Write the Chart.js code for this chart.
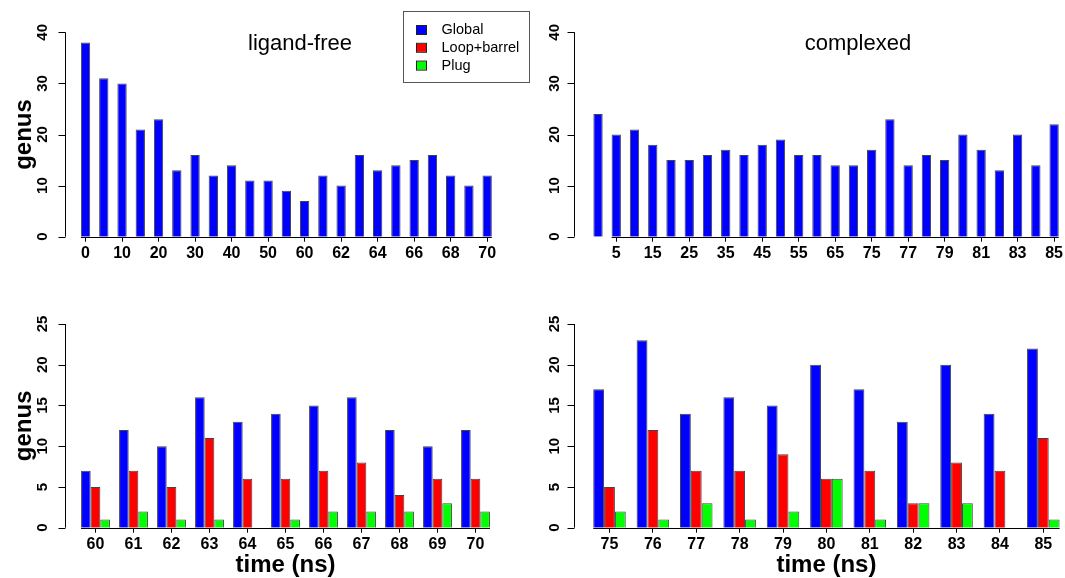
<!DOCTYPE html>
<html lang="en">
  <head>
    <meta charset="UTF-8" />
    <title>genus over time</title>
    <style>
      body { margin: 0; background: #fff; }
      canvas.panel { position: absolute; }
    </style>
  </head>
  <body>
    <canvas class="panel" id="freeTop" width="532" height="290" style="left:0;top:0"></canvas>
    <canvas class="panel" id="complexTop" width="533" height="290" style="left:532px;top:0"></canvas>
    <canvas class="panel" id="freeBottom" width="532" height="288" style="left:0;top:290px"></canvas>
    <canvas class="panel" id="complexBottom" width="533" height="288" style="left:532px;top:290px"></canvas>

    <script src="https://cdn.jsdelivr.net/npm/chart.js"></script>
    <script>
      const seriesNames = ["Global", "Loop+barrel", "Plug"];
      const seriesColors = ["#0000ff", "#ff0000", "#00ff00"];

      // top row: whole trajectories (ns)
      const freeTimes = ["0", "5", "10", "15", "20", "25", "30", "35", "40", "45", "50", "55", "60",
        "61", "62", "63", "64", "65", "66", "67", "68", "69", "70"];
      const freeGlobal = [38, 31, 30, 21, 23, 13, 16, 12, 14, 11, 11, 9, 7, 12, 10, 16, 13, 14, 15, 16, 12, 10, 12];

      const complexTimes = ["0", "5", "10", "15", "20", "25", "30", "35", "40", "45", "50", "55", "60", "65", "70", "75",
        "76", "77", "78", "79", "80", "81", "82", "83", "84", "85"];
      const complexGlobal = [24, 20, 21, 18, 15, 15, 16, 17, 16, 18, 19, 16, 16, 14, 14, 17, 23, 14, 16, 15, 20, 17, 13, 20, 14, 22];

      // bottom row: last 10 ns, split by region
      const freeLastTimes = ["60", "61", "62", "63", "64", "65", "66", "67", "68", "69", "70"];
      const freeLastGlobal = [7, 12, 10, 16, 13, 14, 15, 16, 12, 10, 12];
      const freeLastLoop = [5, 7, 5, 11, 6, 6, 7, 8, 4, 6, 6];
      const freeLastPlug = [1, 2, 1, 1, 0, 1, 2, 2, 2, 3, 2];

      const complexLastTimes = ["75", "76", "77", "78", "79", "80", "81", "82", "83", "84", "85"];
      const complexLastGlobal = [17, 23, 14, 16, 15, 20, 17, 13, 20, 14, 22];
      const complexLastLoop = [5, 12, 7, 7, 9, 6, 7, 3, 8, 7, 11];
      const complexLastPlug = [2, 1, 3, 1, 2, 6, 1, 3, 3, 0, 1];

      const FONT = '"Liberation Sans", Arial, Helvetica, sans-serif';

      // R-style axes: detached y axis with rotated labels, baseline under the bars, panel title, legend
      const rAxis = {
        id: "rAxis",
        afterDraw(chart, args, o) {
          const { ctx } = chart;
          const x = chart.scales.x;
          const y = chart.scales.y;
          ctx.save();
          ctx.strokeStyle = "#000";
          ctx.lineWidth = 1;
          ctx.beginPath();
          const ax = Math.round(o.axisX) + 0.5;
          ctx.moveTo(ax, y.getPixelForValue(y.max));
          ctx.lineTo(ax, y.getPixelForValue(y.min));
          y.ticks.forEach(t => {
            const py = Math.round(y.getPixelForValue(t.value)) + 0.5;
            ctx.moveTo(ax, py);
            ctx.lineTo(ax - 7, py);
          });
          const n = chart.data.labels.length;
          const half = (x.width / n) * o.groupFrac / 2;
          const by = Math.round(y.getPixelForValue(0)) + 0.5;
          ctx.moveTo(x.getPixelForValue(o.baseFrom) - half, by);
          ctx.lineTo(x.getPixelForValue(n - 1) + half, by);
          ctx.stroke();

          ctx.fillStyle = "#000";
          ctx.font = "bold 15px " + FONT;
          ctx.textAlign = "center";
          ctx.textBaseline = "middle";
          y.ticks.forEach(t => {
            ctx.save();
            ctx.translate(ax - o.labelOff, y.getPixelForValue(t.value));
            ctx.rotate(-Math.PI / 2);
            ctx.fillText(t.label, 0, 0);
            ctx.restore();
          });

          if (o.title) {
            ctx.font = "22px " + FONT;
            ctx.textBaseline = "alphabetic";
            ctx.fillText(o.title, o.titleX, o.titleY);
          }

          if (o.legend) {
            const lx = 403.5, ly = 11.5, lw = 126, lh = 71;
            ctx.strokeStyle = "#555";
            ctx.strokeRect(lx, ly, lw, lh);
            ctx.font = "14.5px " + FONT;
            ctx.textAlign = "left";
            ctx.textBaseline = "middle";
            seriesNames.forEach((name, i) => {
              const cy = 30 + i * 17.8;
              ctx.fillStyle = seriesColors[i];
              ctx.fillRect(417, cy - 4, 9, 8);
              ctx.strokeStyle = "#222";
              ctx.strokeRect(416.5, cy - 4.5, 10, 9);
              ctx.fillStyle = "#000";
              ctx.fillText(name, 441.5, cy);
            });
          }
          ctx.restore();
        }
      };

      function makeChart(id, cfg) {
        return new Chart(document.getElementById(id), {
          type: "bar",
          data: {
            labels: cfg.labels,
            datasets: cfg.series.map((s, i) => ({
              label: seriesNames[i],
              data: s,
              backgroundColor: seriesColors[i],
              borderColor: "#444",
              borderWidth: 1,
              categoryPercentage: cfg.catPct,
              barPercentage: cfg.barPct
            }))
          },
          options: {
            responsive: false,
            animation: false,
            layout: { padding: { left: 0, right: cfg.padRight, top: cfg.padTop, bottom: cfg.padBottom } },
            plugins: {
              legend: { display: false },
              tooltip: { enabled: false },
              rAxis: {
                axisX: cfg.axisX,
                labelOff: cfg.labelOff,
                groupFrac: cfg.catPct * cfg.barPct,
                baseFrom: cfg.baseFrom || 0,
                title: cfg.title,
                titleX: cfg.titleX,
                titleY: 50,
                legend: !!cfg.legend
              }
            },
            scales: {
              x: {
                offset: true,
                border: { display: false },
                grid: {
                  display: true,
                  offset: false,
                  drawOnChartArea: false,
                  drawTicks: true,
                  tickLength: 5,
                  lineWidth: 1,
                  tickColor: c => (cfg.showTick(c.index) ? "#000" : "rgba(0,0,0,0)")
                },
                ticks: {
                  autoSkip: false,
                  maxRotation: 0,
                  minRotation: 0,
                  padding: 2,
                  color: "#000",
                  font: { family: FONT, size: 16, weight: "bold" },
                  callback: function (v, i) { return cfg.showTick(i) ? this.getLabelForValue(v) : ""; }
                },
                title: {
                  display: !!cfg.xTitle,
                  text: cfg.xTitle || "",
                  color: "#000",
                  font: { family: FONT, size: 24, weight: "bold", lineHeight: 1 },
                  padding: 0
                },
                afterFit: s => { s.height = cfg.xHeight; }
              },
              y: {
                min: 0,
                max: cfg.yMax,
                border: { display: false },
                grid: { display: false },
                ticks: { stepSize: cfg.yStep, display: false },
                title: {
                  display: !!cfg.yTitle,
                  text: cfg.yTitle || "",
                  color: "#000",
                  font: { family: FONT, size: 24, weight: "bold", lineHeight: 1 },
                  padding: { top: 12, bottom: 0 }
                },
                afterFit: s => { s.width = cfg.yWidth; }
              }
            }
          },
          plugins: [rAxis]
        });
      }

      makeChart("freeTop", {
        labels: freeTimes, series: [freeGlobal],
        catPct: 1, barPct: 0.51, showTick: i => i % 2 === 0,
        yMax: 40, yStep: 10, yWidth: 76.4, padRight: 35.7, padTop: 32.3, xHeight: 30, padBottom: 23.3,
        axisX: 65, labelOff: 22.3, yTitle: "genus",
        title: "ligand-free", titleX: 300, legend: true
      });

      makeChart("complexTop", {
        labels: complexTimes, series: [complexGlobal],
        catPct: 1, barPct: 0.51, showTick: i => i % 2 === 1, baseFrom: 1,
        yMax: 40, yStep: 10, yWidth: 56.9, padRight: 0, padTop: 32.3, xHeight: 30, padBottom: 23.3,
        axisX: 42.3, labelOff: 19.3,
        title: "complexed", titleX: 326
      });

      makeChart("freeBottom", {
        labels: freeLastTimes, series: [freeLastGlobal, freeLastLoop, freeLastPlug],
        catPct: 0.76, barPct: 1, showTick: () => true,
        yMax: 25, yStep: 5, yWidth: 76.5, padRight: 37.5, padTop: 34, xHeight: 49.3, padBottom: 1,
        axisX: 65, labelOff: 22.3, yTitle: "genus", xTitle: "time (ns)"
      });

      makeChart("complexBottom", {
        labels: complexLastTimes, series: [complexLastGlobal, complexLastLoop, complexLastPlug],
        catPct: 0.75, barPct: 1, showTick: () => true,
        yMax: 25, yStep: 5, yWidth: 55.8, padRight: 0, padTop: 34, xHeight: 49.3, padBottom: 1,
        axisX: 42.3, labelOff: 19.3, xTitle: "time (ns)"
      });
    </script>
  </body>
</html>
